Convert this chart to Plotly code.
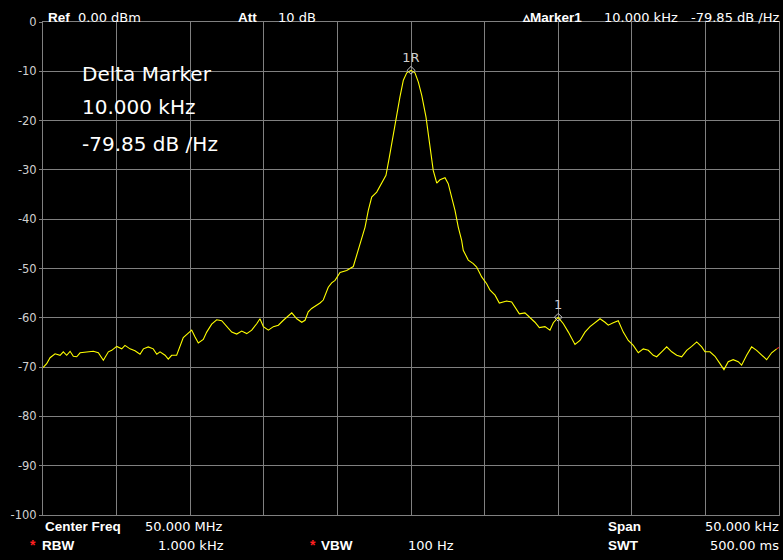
import plotly.graph_objects as go

# Frequency offset from centre (kHz) and trace level (dBm)
freq_khz = [
    -25.0, -24.75, -24.52, -24.18, -23.84, -23.62, -23.39, -23.16, -22.94, -22.71,
    -22.48, -22.03, -21.58, -21.24, -20.90, -20.56, -20.33, -19.99, -19.65, -19.43,
    -19.09, -18.75, -18.41, -18.18, -17.85, -17.51, -17.27, -17.05, -16.71, -16.49,
    -16.26, -15.92, -15.69, -15.47, -15.13, -14.90, -14.67, -14.45, -14.11, -13.88,
    -13.54, -13.20, -12.86, -12.52, -12.18, -11.84, -11.50, -11.16, -10.82, -10.48,
    -10.26, -10.03, -9.69, -9.35, -9.01, -8.67, -8.33, -8.10, -7.76, -7.42,
    -7.20, -6.98, -6.75, -6.41, -6.18, -5.96, -5.73, -5.62, -5.39, -5.16,
    -4.82, -4.37, -3.92, -3.58, -3.35, -3.12, -2.90, -2.67, -2.33, -1.99,
    -1.70, -1.47, -1.20, -0.97, -0.75, -0.52, -0.29, 0.0, 0.27, 0.50,
    0.73, 1.02, 1.29, 1.51, 1.75, 1.97, 2.31, 2.53, 2.76, 2.99,
    3.21, 3.44, 3.55, 3.89, 4.23, 4.46, 4.80, 5.14, 5.37, 5.71,
    6.00, 6.50, 6.84, 7.06, 7.36, 7.74, 8.08, 8.42, 8.72, 9.10,
    9.44, 9.67, 10.0, 10.35, 10.69, 10.92, 11.14, 11.48, 11.82, 12.16,
    12.50, 12.84, 13.18, 13.40, 13.74, 14.08, 14.42, 14.76, 15.10, 15.44,
    15.78, 16.12, 16.46, 16.69, 17.03, 17.37, 17.71, 18.05, 18.39, 18.73,
    19.07, 19.41, 19.75, 19.97, 20.31, 20.65, 20.99, 21.26, 21.55, 21.89,
    22.23, 22.46, 22.80, 23.14, 23.48, 23.82, 24.16, 24.50, 24.84,
]
level_dbm = [
    -70.1, -69.3, -68.1, -67.3, -67.6, -66.9, -67.6, -66.8, -67.8, -67.9,
    -67.1, -66.9, -66.8, -67.1, -68.6, -66.9, -66.6, -65.8, -66.3, -65.6,
    -66.3, -66.7, -67.4, -66.3, -65.9, -66.3, -67.4, -66.9, -67.6, -68.4,
    -67.6, -67.6, -65.9, -64.0, -63.1, -62.5, -63.9, -65.1, -64.4, -62.9,
    -61.3, -60.4, -60.6, -61.8, -62.9, -63.3, -62.7, -63.2, -62.5, -61.2,
    -60.2, -61.8, -62.5, -61.8, -61.5, -60.5, -59.5, -59.0, -60.2, -60.9,
    -60.5, -58.8, -58.1, -57.5, -57.0, -56.4, -54.8, -53.8, -52.9, -52.4,
    -50.8, -50.4, -49.6, -46.3, -43.6, -41.6, -38.2, -35.5, -34.5, -32.5,
    -31.1, -27.4, -22.6, -18.6, -15.2, -11.8, -10.3, -9.8, -10.3, -12.2,
    -14.9, -19.3, -24.7, -30.1, -32.7, -32.0, -31.6, -32.8, -35.5, -38.2,
    -41.6, -44.3, -46.3, -48.3, -49.0, -49.7, -51.7, -53.1, -54.4, -55.4,
    -57.0, -56.6, -56.8, -57.8, -59.2, -59.0, -60.0, -60.9, -62.0, -61.8,
    -62.5, -61.0, -59.9, -61.2, -62.9, -64.2, -65.4, -64.6, -62.9, -61.8,
    -60.9, -60.2, -60.9, -61.5, -61.0, -60.6, -62.9, -64.6, -65.6, -67.1,
    -66.3, -66.6, -67.6, -67.9, -66.9, -65.9, -66.9, -67.6, -67.9, -66.6,
    -65.8, -64.9, -65.9, -66.9, -66.9, -67.8, -69.3, -70.5, -68.9, -68.5,
    -68.9, -69.6, -67.6, -65.9, -66.6, -67.6, -68.5, -67.1, -66.3,
]
tail_khz = [24.84, 25.0]
tail_dbm = [-66.3, -66.0]

marker_khz = [0.0, 10.0]
marker_dbm = [-9.8, -59.9]
marker_names = ["1R", "1"]

y_tick_vals = [0, -10, -20, -30, -40, -50, -60, -70, -80, -90, -100]
y_tick_labels = ["0", "-10", "-20", "-30", "-40", "-50", "-60", "-70", "-80", "-90", "-100"]

REG = "DejaVu Sans, sans-serif"
BOLD = "Liberation Sans, Arial, sans-serif"
W, H = 783, 560
L, R, T, B = 43, 4, 22, 45
PW, PH = W - L - R, H - T - B


def px(x):
    return (x - L) / PW


def py(y):
    return (H - B - y) / PH


fig = go.Figure()
fig.add_trace(go.Scatter(x=freq_khz, y=level_dbm, mode="lines",
                         line=dict(color="#ffff00", width=1.1), hoverinfo="skip"))
fig.add_trace(go.Scatter(x=tail_khz, y=tail_dbm, mode="lines",
                         line=dict(color="#ff2020", width=1.1), hoverinfo="skip"))
fig.add_trace(go.Scatter(x=marker_khz, y=marker_dbm, mode="markers+text",
                         marker=dict(symbol="diamond-open", size=6, color="#c8c8c8",
                                     line=dict(width=1)),
                         text=marker_names, textposition="top center",
                         textfont=dict(family=REG, size=13, color="#d0d0d0"),
                         hoverinfo="skip"))

annos = []


def txt(x, y, s, size=13, bold=False, color="white", anchor="left"):
    annos.append(dict(xref="paper", yref="paper", x=px(x), y=py(y),
                      text=("<b>%s</b>" % s) if bold else s, showarrow=False,
                      xanchor=anchor, yanchor="middle",
                      font=dict(family=BOLD if bold else REG, size=size, color=color)))


# header
txt(46, 17, "Ref", bold=True, size=13.5)
txt(76, 17, "0.00 dBm")
txt(236, 17, "Att", bold=True, size=13.5)
txt(276, 17, "10 dB")
txt(520, 17, "\u25b5Marker1", bold=True, size=13.5)
txt(602, 17, "10.000 kHz")
txt(781, 17, "-79.85 dB /Hz", anchor="right")
# footer
txt(43, 526, "Center Freq", bold=True, size=13.5)
txt(143, 526, "50.000 MHz")
txt(28, 545, "*", bold=True, color="#ff2020", size=14)
txt(40, 545, "RBW", bold=True, size=13.5)
txt(156, 545, "1.000 kHz")
txt(308, 545, "*", bold=True, color="#ff2020", size=14)
txt(319, 545, "VBW", bold=True, size=13.5)
txt(406, 545, "100 Hz")
txt(606, 526, "Span", bold=True, size=13.5)
txt(781, 526, "50.000 kHz", anchor="right")
txt(606, 545, "SWT", bold=True, size=13.5)
txt(781, 545, "500.00 ms", anchor="right")
# delta marker readout
txt(80, 74, "Delta Marker", size=20)
txt(80, 107, "10.000 kHz", size=20)
txt(80, 144, "-79.85 dB /Hz", size=20)

fig.update_layout(
    width=W, height=H,
    margin=dict(l=L, r=R, t=T, b=B, pad=0),
    paper_bgcolor="black", plot_bgcolor="black",
    showlegend=False,
    annotations=annos,
    xaxis=dict(range=[-25, 25], dtick=5, tick0=-25, showticklabels=False,
               showgrid=True, gridcolor="#808080", gridwidth=1,
               showline=True, linecolor="#808080", linewidth=1, mirror=True,
               zeroline=False, ticks=""),
    yaxis=dict(range=[-100, 0], tickvals=y_tick_vals, ticktext=y_tick_labels,
               showgrid=True, gridcolor="#808080", gridwidth=1,
               showline=True, linecolor="#808080", linewidth=1, mirror=True,
               zeroline=False, ticks="outside", ticklen=3, tickcolor="#808080",
               tickfont=dict(family=REG, size=11.5, color="#d0d0d0")),
)

fig.write_html("out.html", config={"displayModeBar": False},
               post_script="document.body.style.margin='0';document.body.style.background='black';")
